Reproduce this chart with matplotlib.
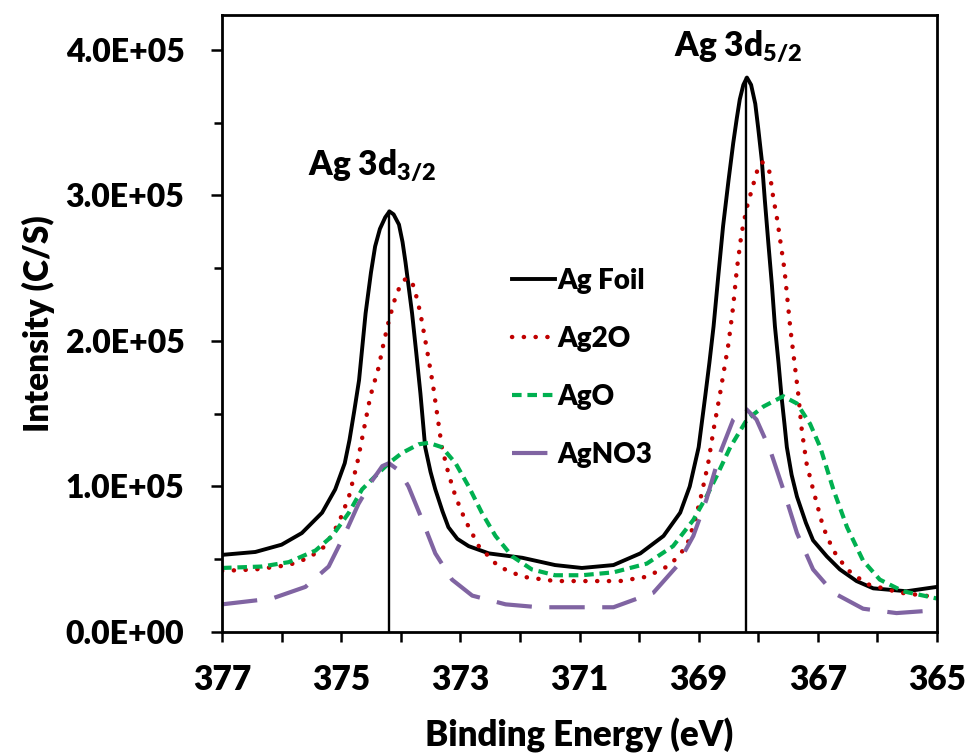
import numpy as np
import matplotlib
matplotlib.use("Agg")
import matplotlib.pyplot as plt
from matplotlib.ticker import FixedLocator, MultipleLocator, FuncFormatter

FW = 'heavy'
plt.rcParams['font.family'] = ['Lato', 'DejaVu Sans']
plt.rcParams['font.weight'] = FW
plt.rcParams['mathtext.fontset'] = 'custom'
plt.rcParams['mathtext.rm'] = 'Lato:weight=heavy'
plt.rcParams['mathtext.it'] = 'Lato:weight=heavy'
plt.rcParams['mathtext.bf'] = 'Lato:weight=heavy'

# Ag foil
e_foil = [377.0, 376.44, 376.0, 375.66, 375.32, 375.1, 374.94, 374.86, 374.78, 374.7,
          374.59, 374.5, 374.43, 374.35, 374.26, 374.19, 374.12, 374.03, 373.97, 373.92,
          373.81, 373.74, 373.67, 373.59, 373.5, 373.42, 373.3, 373.2, 373.05, 372.86,
          372.52, 371.96, 371.41, 370.96, 370.43, 369.98, 369.59, 369.31, 369.15, 369.0,
          368.89, 368.82, 368.75, 368.67, 368.59, 368.5, 368.42, 368.36, 368.31, 368.25,
          368.19, 368.12, 368.05, 368.0, 367.94, 367.89, 367.83, 367.77, 367.72, 367.66,
          367.61, 367.56, 367.52, 367.44, 367.35, 367.2, 367.08, 366.85, 366.63, 366.35,
          366.07, 365.51, 365.0]
i_foil = [0.53, 0.55, 0.60, 0.68, 0.82, 0.98, 1.16, 1.32, 1.52, 1.73,
          2.19, 2.47, 2.65, 2.77, 2.85, 2.89, 2.87, 2.80, 2.68, 2.54,
          2.19, 1.92, 1.64, 1.27, 1.10, 0.98, 0.83, 0.72, 0.64, 0.59,
          0.54, 0.51, 0.46, 0.44, 0.46, 0.54, 0.66, 0.82, 1.00, 1.27,
          1.62, 1.85, 2.10, 2.45, 2.79, 3.10, 3.36, 3.53, 3.66, 3.76,
          3.81, 3.76, 3.63, 3.46, 3.24, 2.97, 2.67, 2.38, 2.10, 1.85,
          1.62, 1.43, 1.27, 1.08, 0.93, 0.75, 0.63, 0.52, 0.43, 0.35,
          0.30, 0.28, 0.31]

# Ag2O
e_ag2o = [377.0, 376.44, 375.88, 375.54, 375.27, 375.04, 374.87, 374.73, 374.62, 374.51,
          374.37, 374.29, 374.2, 374.09, 374.01, 373.94, 373.88, 373.82, 373.77, 373.67,
          373.56, 373.46, 373.39, 373.31, 373.2, 373.08, 372.92, 372.69, 372.36, 371.96,
          371.41, 370.96, 370.32, 369.87, 369.48, 369.2, 369.06, 368.95, 368.84, 368.75,
          368.64, 368.5, 368.42, 368.36, 368.28, 368.19, 368.08, 368.01, 367.94, 367.87,
          367.81, 367.75, 367.68, 367.62, 367.56, 367.46, 367.38, 367.33, 367.27, 367.19,
          367.08, 366.91, 366.74, 366.51, 366.18, 365.62, 365.0]
i_ag2o = [0.42, 0.43, 0.46, 0.51, 0.59, 0.75, 0.93, 1.16, 1.39, 1.62,
          1.82, 1.98, 2.14, 2.30, 2.38, 2.42, 2.43, 2.41, 2.36, 2.19,
          1.94, 1.70, 1.50, 1.27, 1.09, 0.93, 0.77, 0.59, 0.45, 0.38,
          0.35, 0.35, 0.35, 0.38, 0.46, 0.59, 0.77, 0.95, 1.16, 1.39,
          1.64, 1.98, 2.24, 2.49, 2.74, 2.92, 3.08, 3.18, 3.23, 3.21,
          3.16, 2.99, 2.83, 2.66, 2.49, 2.08, 1.81, 1.64, 1.39, 1.16,
          0.98, 0.72, 0.56, 0.43, 0.33, 0.27, 0.24]

# AgO
e_ago = [377.0, 376.33, 375.88, 375.43, 375.15, 374.87, 374.65, 374.43, 374.2, 373.98,
         373.7, 373.53, 373.31, 373.08, 372.86, 372.64, 372.41, 372.13, 371.8, 371.41,
         370.96, 370.43, 369.87, 369.43, 369.09, 368.87, 368.7, 368.47, 368.19, 367.91,
         367.58, 367.35, 367.13, 366.96, 366.74, 366.51, 366.24, 365.96, 365.57, 365.0]
i_ago = [0.44, 0.45, 0.48, 0.56, 0.66, 0.82, 0.98, 1.07, 1.16, 1.23,
         1.29, 1.30, 1.27, 1.16, 1.00, 0.82, 0.66, 0.52, 0.43, 0.39,
         0.39, 0.41, 0.47, 0.59, 0.77, 0.93, 1.07, 1.27, 1.46, 1.55,
         1.62, 1.57, 1.43, 1.27, 0.98, 0.72, 0.49, 0.36, 0.28, 0.23]

# AgNO3
e_agno3 = [377.0, 376.16, 375.6, 375.21, 374.93, 374.71, 374.48, 374.31, 374.2, 374.03,
           373.87, 373.64, 373.42, 373.14, 372.8, 372.24, 371.68, 370.96, 370.43, 369.76,
           369.37, 369.09, 368.87, 368.64, 368.42, 368.22, 368.03, 367.8, 367.58, 367.35,
           367.08, 366.74, 366.24, 365.68, 365.0]
i_agno3 = [0.19, 0.23, 0.31, 0.45, 0.68, 0.88, 1.04, 1.14, 1.16, 1.11,
           1.00, 0.77, 0.54, 0.36, 0.25, 0.19, 0.17, 0.17, 0.17, 0.27,
           0.45, 0.66, 0.91, 1.23, 1.46, 1.54, 1.46, 1.25, 0.98, 0.68,
           0.43, 0.27, 0.16, 0.13, 0.15]

# peak marker lines (position, height)
peak_e = [374.2, 368.2]
peak_i = [2.89, 3.81]

scale = 1e5

fig = plt.figure(figsize=(9.69, 7.55), dpi=100)
ax = fig.add_axes([222 / 969, 1 - 632 / 755, 715 / 969, 617 / 755])

ax.plot(e_foil, np.array(i_foil) * scale, color='black', lw=2.8, label='Ag Foil')
ax.plot(e_ag2o, np.array(i_ag2o) * scale, color='#C00000', lw=3.2,
        linestyle=(0, (0.05, 2.6)), dash_capstyle='round', label='Ag2O')
ax.plot(e_ago, np.array(i_ago) * scale, color='#00B050', lw=3.0,
        linestyle=(0, (2.3, 1.4)), label='AgO')
ax.plot(e_agno3, np.array(i_agno3) * scale, color='#8064A2', lw=3.0,
        linestyle=(0, (8.5, 4.2)), label='AgNO3')

for pe, pi in zip(peak_e, peak_i):
    ax.plot([pe, pe], [0, pi * scale], color='black', lw=1.7)

ax.set_xlim(377, 365)
ax.set_ylim(0, 4.24e5)

ax.xaxis.set_major_locator(FixedLocator([377, 375, 373, 371, 369, 367, 365]))
ax.xaxis.set_minor_locator(FixedLocator([376, 374, 372, 370, 368, 366]))
ax.xaxis.set_major_formatter(FuncFormatter(lambda v, p: '%d' % round(v)))
ax.yaxis.set_major_locator(MultipleLocator(1e5))
ax.yaxis.set_minor_locator(MultipleLocator(0.5e5))
ax.yaxis.set_major_formatter(FuncFormatter(lambda v, p: '%.1E' % v))

ax.tick_params(axis='both', which='both', direction='out', width=1.8)
ax.tick_params(axis='x', which='both', length=7, pad=16, labelsize=24)
ax.tick_params(axis='y', which='major', length=8, pad=19, labelsize=23)
ax.tick_params(axis='y', which='minor', length=6)
for lab in ax.get_xticklabels() + ax.get_yticklabels():
    lab.set_fontweight(FW)
for sp in ax.spines.values():
    sp.set_linewidth(2.0)

ax.set_xlabel('Binding Energy (eV)', fontsize=25, fontweight=FW, labelpad=16)
ax.set_ylabel('Intensity (C/S)', fontsize=24, fontweight=FW, labelpad=8)

ax.text(374.48, 3.21e5, 'Ag 3d$_{3/2}$', fontsize=24, fontweight=FW,
        ha='center', va='center')
ax.text(368.34, 4.03e5, 'Ag 3d$_{5/2}$', fontsize=24, fontweight=FW,
        ha='center', va='center')

leg = ax.legend(loc='center left', bbox_to_anchor=((501 - 222) / 715, (632 - 368) / 617),
                frameon=False, fontsize=20, handlelength=1.55, handletextpad=0.08,
                labelspacing=1.15, borderaxespad=0)
for t in leg.get_texts():
    t.set_fontweight(FW)

fig.savefig('out.png', dpi=100)
